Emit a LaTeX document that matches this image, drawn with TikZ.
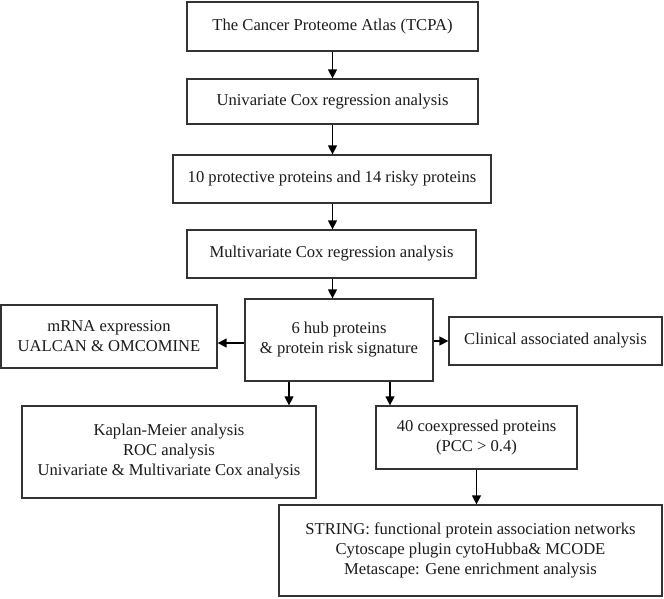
\documentclass[tikz,border=0pt]{standalone}
\usepackage{fontspec}
\setmainfont{Liberation Serif}
\usetikzlibrary{arrows.meta,positioning,calc}
\definecolor{edge}{HTML}{333333}
\definecolor{txt}{HTML}{1A1A1A}
\tikzset{
  box/.style={draw=edge, line width=1.3pt, inner sep=0pt, align=center, text=txt,
    font=\fontsize{16.6}{20}\selectfont},
  arr/.style={draw=black, line width=1.4pt, -{Triangle[length=9pt,width=9pt]}}
}
\newcommand{\boxat}[6]{% name, x1, y1, x2, y2, text
  \node[box, minimum width={(#4-#2)*1pt}, minimum height={(#5-#3)*1pt}] (#1) at ({(#2+#4)/2},{(#3+#5)/2}) {#6};}
\begin{document}
\begin{tikzpicture}[x=1pt,y=-1pt]
\useasboundingbox (0,0) rectangle (664,598);
\boxat{b1}{187}{2}{478}{51}{The Cancer Proteome Atlas (TCPA)}
\boxat{b2}{187}{79}{478}{124}{Univariate Cox regression analysis}
\boxat{b3}{173}{155}{491}{203}{10 protective proteins and 14 risky proteins}
\boxat{b4}{187}{230}{476}{278}{Multivariate Cox regression analysis}
\boxat{hub}{245}{299}{433}{381}{6 hub proteins\\ \& protein risk signature}
\boxat{mrna}{1}{305}{217}{368}{mRNA expression\\ UALCAN \& OMCOMINE}
\boxat{clin}{449}{317}{662}{365}{Clinical associated analysis}
\boxat{km}{22}{406}{316}{498}{Kaplan-Meier analysis\\ ROC analysis\\ Univariate \& Multivariate Cox analysis}
\boxat{coex}{376}{406}{577}{469}{40 coexpressed proteins\\ (PCC > 0.4)}
\boxat{str}{279}{505}{662}{596}{STRING: functional protein association networks\\ Cytoscape plugin cytoHubba\& MCODE\\ Metascape: Gene enrichment analysis}
\draw[arr] (b1.south) -- (b1.south |- b2.north);
\draw[arr] (b2.south) -- (b2.south |- b3.north);
\draw[arr] (b3.south -| b2.south) -- (b2.south |- b4.north);
\draw[arr] (b4.south -| b2.south) -- (b2.south |- hub.north);
\draw[arr] ([yshift=-3pt]hub.west) -- ([yshift=-3pt]hub.west -| mrna.east);
\draw[arr] ([yshift=-1pt]hub.east) -- ([yshift=-1pt]hub.east -| clin.west);
\draw[arr] ([xshift=-50pt]hub.south) -- ([xshift=-50pt]hub.south |- km.north);
\draw[arr] ([xshift=51pt]hub.south) -- ([xshift=51pt]hub.south |- coex.north);
\draw[arr] (coex.south) -- (coex.south |- str.north);
\end{tikzpicture}
\end{document}
